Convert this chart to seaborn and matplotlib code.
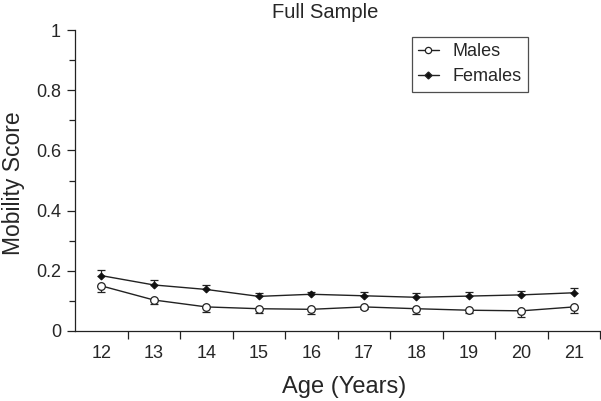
import seaborn as sns
import pandas as pd
import matplotlib.pyplot as plt
import numpy as np
from matplotlib.lines import Line2D

# values
ages = [12, 13, 14, 15, 16, 17, 18, 19, 20, 21]
males = [0.150, 0.103, 0.080, 0.074, 0.072, 0.080, 0.074, 0.069, 0.067, 0.080]
males_err = [0.022, 0.014, 0.018, 0.014, 0.017, 0.007, 0.017, 0.008, 0.020, 0.019]
females = [0.184, 0.153, 0.138, 0.115, 0.122, 0.117, 0.112, 0.116, 0.120, 0.127]
females_err = [0.019, 0.016, 0.016, 0.012, 0.009, 0.011, 0.014, 0.012, 0.013, 0.017]

sns.set_style("ticks")
plt.rcParams['font.family'] = ['Liberation Sans', 'DejaVu Sans']

df = pd.DataFrame({
    "Age": ages * 2,
    "Score": males + females,
    "Sex": ["Males"] * len(ages) + ["Females"] * len(ages),
})

fig = plt.figure(figsize=(6.01, 4.01), dpi=100)
ax = fig.add_axes([0.1248, 0.1746, 0.874, 0.7504])

# one-sided error bars: males downwards, females upwards
z = np.zeros(len(ages))
ax.errorbar(ages, males, yerr=[males_err, z], fmt="none", ecolor="#222222",
            elinewidth=0.9, capsize=3, capthick=0.9)
ax.errorbar(ages, females, yerr=[z, females_err], fmt="none", ecolor="#222222",
            elinewidth=0.9, capsize=3, capthick=0.9)

sns.lineplot(data=df, x="Age", y="Score", hue="Sex", style="Sex",
             hue_order=["Males", "Females"], palette=["#222222", "#222222"],
             markers={"Males": "o", "Females": "D"}, dashes=False,
             linewidth=1.0, ax=ax, legend=False, zorder=3)
# restyle markers
for ln in ax.get_lines():
    if ln.get_marker() == "o":
        ln.set_markerfacecolor("white")
        ln.set_markeredgecolor("#222222")
        ln.set_markersize(5.5)
        ln.set_markeredgewidth(0.9)
    elif ln.get_marker() == "D":
        ln.set_markerfacecolor("#111111")
        ln.set_markeredgecolor("#111111")
        ln.set_markersize(3.5)

handles = [
    Line2D([], [], color="#222222", lw=1.0, marker="o", markersize=4.5,
           markerfacecolor="white", markeredgewidth=0.9),
    Line2D([], [], color="#222222", lw=1.0, marker="D", markersize=3.5,
           markerfacecolor="#111111"),
]
leg = ax.legend(handles, ["Males", "Females"], loc="upper left",
                bbox_to_anchor=(0.641, 0.977), frameon=True, fancybox=False,
                edgecolor="#222222", fontsize=13, handlelength=1.15,
                borderpad=0.35, labelspacing=0.45, handletextpad=0.75,
                borderaxespad=0)
leg.get_frame().set_linewidth(0.9)

ax.set_xlim(11.5, 21.5)
ax.set_ylim(0, 1)
ax.set_xticks([a + 0.5 for a in ages[:-1]] + [21.5])
ax.set_xticklabels([])
ax.set_xticks(ages, minor=True)
ax.set_xticklabels([str(a) for a in ages], minor=True)
ax.tick_params(axis="x", which="minor", length=0, pad=10, labelsize=13)
ax.tick_params(axis="x", which="major", length=6, width=0.9, color="#222222")

ax.set_yticks([0, 0.2, 0.4, 0.6, 0.8, 1])
ax.set_yticklabels(["0", "0.2", "0.4", "0.6", "0.8", "1"])
ax.set_yticks([0.1, 0.3, 0.5, 0.7, 0.9], minor=True)
ax.tick_params(axis="y", which="major", length=6, width=0.9, labelsize=13,
               pad=4, color="#222222")
ax.tick_params(axis="y", which="minor", length=4, width=0.9, color="#222222")

sns.despine(ax=ax)
for s in ["left", "bottom"]:
    ax.spines[s].set_linewidth(0.9)
    ax.spines[s].set_color("#222222")

ax.set_xlabel("Age (Years)", fontsize=17)
ax.xaxis.set_label_coords(0.512, -0.148)
ax.set_ylabel("Mobility Score", fontsize=16.5)
ax.yaxis.set_label_coords(-0.096, 0.49)
fig.text(325 / 601, 1 - 12 / 401, "Full Sample", fontsize=14.5,
         ha="center", va="center")

fig.savefig("out.png", dpi=100)
